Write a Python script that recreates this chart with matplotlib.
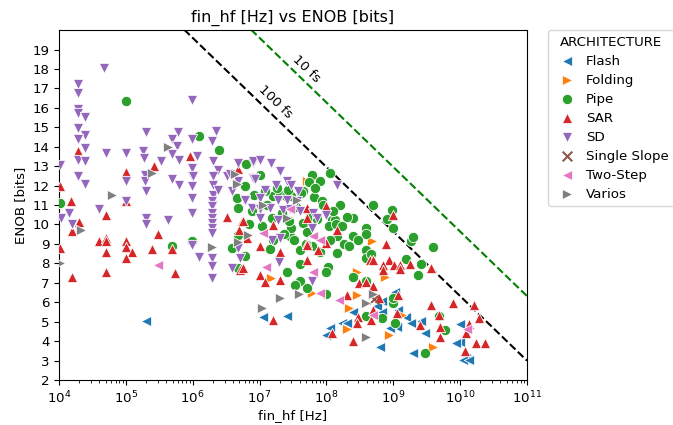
import numpy as np
import matplotlib
matplotlib.use("Agg")
import matplotlib.pyplot as plt

plt.rcParams["font.size"] = 9.6

# ---------------- data (fin_hf [Hz], ENOB [bits]) per architecture ----------------
flash_f = [1.98e5, 1.13e7, 2.53e7, 1.12e8, 9.8e7, 1.68e8, 2.0e8, 2.5e8, 5.61e8, 8.87e8, 1.12e9,
           1.05e9, 6.28e8, 6.67e8, 6.67e8, 1.18e9, 1.57e9, 1.87e9, 2.64e9, 2.96e9, 9.87e9, 9.87e9,
           8.3e9, 1.24e10, 1.98e9, 1.1e10, 1.36e10, 8.8e9]
flash_e = [5.01, 5.23, 5.30, 4.66, 4.32, 4.95, 4.92, 5.52, 5.78, 4.66, 4.75,
           6.55, 3.72, 6.04, 5.52, 5.61, 5.26, 4.92, 5.01, 4.41, 4.89, 3.97,
           3.89, 3.12, 3.41, 3.03, 3.03, 3.92]

folding_f = [5.05e7, 4.72e8, 7.6e8, 1.46e7, 5.98e7, 2.88e8, 2.88e8, 2.18e8, 2.0e8, 8.5e8, 1.33e9, 3.86e9]
folding_e = [12.22, 9.13, 7.30, 7.24, 6.47, 6.38, 7.58, 5.70, 4.61, 4.32, 5.35, 3.72]

pipe_f = [9.9e4, 1.24e6, 2.47e6, 6.2e6, 1.04e4, 4.53e6, 6.03e6, 8.3e6, 4.79e6, 4.79e6, 4.84e5,
          9.84e5, 3.81e6, 6.03e6, 4.79e6,
          1.01e7, 5.98e7, 7.96e7, 1.12e8, 1.6e7, 2.0e7, 2.5e7, 3.0e7, 7.6e6, 1.51e7, 5.65e7, 7.1e7,
          1.19e8, 1.35e8, 2.5e8, 1.42e8, 2.5e8, 3.97e8, 3.97e8, 4.99e8, 9.4e8, 9.73e8, 8.0e8,
          2.84e7, 3.3e7, 1.12e8, 1.6e7,
          1.87e9, 1.98e9, 3.94e9, 1.54e9, 2.64e9, 2.35e9, 9.94e8, 2.96e9, 4.9e9, 5.89e9,
          1.43e7, 4.0e7, 1.1e8, 1.4e8, 1.42e8, 3.97e8, 3.97e8, 4.6e8, 4.0e7, 1.06e8, 1.0e8, 2.53e7,
          4.0e7, 5.05e7, 3.4e7, 9.8e7, 2.5e8, 3.97e8, 9.94e8, 3.88e8, 6.67e8, 1.05e9,
          1.3e7, 2.2e7, 3.5e7, 4.5e7, 5.5e7, 6.5e7, 8.5e7, 3.0e7, 4.5e7, 2.0e8, 1.8e8, 2.2e8,
          6.0e7, 8.0e7, 5.0e7, 7.0e6, 3.0e8, 1.6e8,
          1.8e7, 2.7e7, 4.2e7, 6.8e7, 9.0e7, 1.25e8, 1.7e8, 2.8e7, 5.2e7, 1.1e7, 1.2e7, 2.3e7]
pipe_e = [16.35, 14.54, 13.82, 13.10, 11.11, 11.37, 11.96, 11.54, 10.85, 9.47, 8.87,
          9.13, 8.79, 8.39, 7.76,
          12.57, 12.57, 12.22, 12.65, 11.45, 11.50, 11.45, 11.45, 10.70, 10.34, 10.42, 10.30,
          10.25, 10.25, 10.34, 9.39, 9.39, 9.82, 9.50, 11.02, 10.76, 9.82, 10.30,
          9.39, 9.20, 9.22, 9.22,
          9.13, 9.36, 8.84, 8.22, 7.98, 7.41, 5.98, 3.41, 5.30, 4.58,
          8.74, 8.70, 9.90, 10.00, 8.53, 8.70, 8.30, 8.50, 7.95, 7.81, 7.58, 7.58,
          7.07, 6.73, 6.90, 6.43, 7.30, 7.10, 6.21, 5.30, 5.18, 4.95,
          11.00, 10.60, 10.90, 11.70, 12.20, 11.40, 11.20, 9.80, 10.10, 10.40, 9.00, 8.90,
          8.90, 8.60, 9.00, 10.00, 9.20, 11.00,
          11.90, 11.80, 11.60, 11.90, 11.00, 10.70, 9.90, 10.20, 9.60, 9.90, 11.70, 9.50]

sar_f = [1.94e4, 9.08e5, 9.9e4, 2.66e5, 4.69e6, 1.04e4, 1.5e4, 9.9e4, 4.99e4, 3.21e6, 5.49e6,
         4.9e6, 6.18e6, 1.99e4, 1.58e4, 1.04e4, 3.96e4, 4.99e4, 4.99e4, 4.99e4, 9.9e4, 9.9e4,
         1.25e5, 9.9e4, 2.99e5, 2.48e5, 4.94e5, 1.55e4, 4.99e4, 5.42e5, 5.07e6,
         5.05e7, 9.8e7, 5.05e7, 1.45e8, 1.6e7, 5.7e6, 6.4e6, 1.01e7, 5.05e7, 1.0e8,
         2.01e7, 5.05e7, 7.52e7, 5.05e7, 4.46e8, 5.0e8, 5.69e6, 1.01e7, 1.2e7, 2.01e7,
         3.08e8, 3.88e8, 4.99e8, 2.0e8, 6.13e8, 4.99e8, 2.98e8, 1.12e9, 2.82e8, 4.56e8, 1.19e8,
         2.5e8, 1.6e7,
         9.73e8, 7.72e8, 8.65e8, 7.03e8, 7.03e8, 1.02e9, 1.28e9, 1.28e9, 1.77e9, 3.72e9, 1.18e9,
         3.6e9, 7.84e9, 1.6e10, 2.49e9, 4.84e9, 4.95e9, 4.95e9, 1.92e10, 1.36e10, 1.21e10,
         1.75e10, 2.33e10, 1.17e10]
sar_e = [13.77, 13.51, 12.69, 13.03, 12.86, 11.96, 11.20, 11.19, 10.51, 10.39, 10.16,
         9.70, 9.30, 10.11, 9.64, 8.79, 9.13, 9.30, 9.13, 8.61, 9.13, 8.84,
         8.61, 8.27, 9.51, 8.74, 8.74, 7.30, 7.53, 7.50, 7.67,
         10.85, 10.95, 10.34, 9.73, 9.99, 10.20, 9.30, 8.87, 9.05, 9.05,
         8.61, 8.96, 8.70, 8.19, 8.19, 8.19, 7.76, 7.41, 7.02, 7.12,
         6.98, 7.02, 6.81, 6.38, 6.21, 5.61, 5.26, 5.44, 4.92, 5.09, 4.41,
         4.03, 5.06,
         10.51, 9.01, 8.19, 7.93, 7.67, 7.93, 7.93, 7.71, 7.98, 7.76, 6.38,
         5.87, 5.98, 5.87, 4.84, 5.35, 4.75, 4.23, 5.20, 4.89, 4.41,
         3.89, 3.89, 3.51]

sd_f = [4.76e4, 1.94e4, 1.94e4, 1.94e4, 1.94e4, 2.45e4, 1.94e4, 2.45e4, 1.94e4, 2.45e4, 1.94e4,
        2.45e4, 1.94e4, 2.45e4, 9.84e5,
        1.98e5, 5.94e5, 2.2e6, 4.84e5, 9.64e5, 1.95e6,
        4.99e4, 9.9e4, 1.82e5, 5.74e5, 4.94e5, 1.89e5, 3.35e5, 6.22e5, 1.14e6,
        9.9e4, 1.93e5, 1.93e5, 1.98e5, 4.84e5, 6.22e5, 9.84e5, 9.84e5, 1.0e6, 9.84e5, 9.84e5,
        2.02e6, 2.4e6, 2.02e6, 2.02e6, 2.02e6, 2.4e6, 2.02e6, 3.21e6, 3.6e6, 3.81e6, 4.79e6,
        4.79e6, 6.03e6, 8.02e6, 8.02e6,
        1.04e4, 3.96e4, 9.9e4, 1.98e5, 1.98e5, 4.31e5, 9.84e5, 1.95e6, 1.95e6, 1.95e6, 1.95e6,
        1.95e6, 1.95e6, 1.95e6, 1.58e4, 9.84e5, 1.24e6, 1.95e6, 1.95e6, 1.95e6, 4.79e6, 3.81e6,
        5.07e6, 1.06e4, 1.43e4,
        8.02e6, 1.03e7, 1.46e7, 2.01e7, 8.5e6, 1.2e7, 1.75e7, 2.53e7, 3.0e7, 3.78e7, 1.9e7,
        2.53e7, 3.57e7, 1.01e7, 6.03e6, 7.59e6, 1.01e7, 1.43e7, 2.25e7, 2.84e7, 4.0e7, 6.33e7,
        1.0e8, 7.11e7, 1.01e7, 1.9e7, 2.01e7, 1.51e7, 5.98e7, 1.45e8, 1.96e7, 5.98e7]
sd_e = [18.07, 17.21, 16.78, 15.92, 15.75, 15.54, 14.97, 14.58, 14.41, 13.94, 13.34,
        13.25, 12.48, 12.10, 16.40,
        14.75, 14.75, 14.80, 14.41, 14.41, 14.28,
        13.69, 13.69, 13.77, 14.06, 13.65, 13.43, 13.25, 13.30, 13.55,
        12.22, 12.57, 12.22, 11.71, 12.35, 12.05, 12.91, 12.48, 12.48, 11.96, 11.37,
        13.25, 12.82, 12.48, 12.05, 11.54, 11.79, 11.02, 12.48, 12.60, 11.71, 13.17,
        12.22, 11.19, 13.17, 12.40,
        13.08, 10.80, 11.19, 10.34, 10.04, 10.21, 10.59, 11.19, 10.93, 10.59, 10.34,
        10.08, 9.82, 9.56, 10.04, 8.96, 8.32, 8.27, 7.84, 7.24, 8.79, 7.76,
        8.27, 10.34, 10.59,
        13.25, 13.30, 13.17, 12.74, 12.35, 11.79, 12.05, 12.22, 12.05, 11.71, 11.28,
        11.28, 11.19, 11.37, 11.28, 10.85, 10.80, 10.85, 10.76, 10.80, 10.68, 10.59,
        10.51, 10.34, 10.34, 10.25, 9.30, 9.22, 9.82, 12.05, 8.05, 7.07]

single_f = [5.11e8]
single_e = [6.16]

twostep_f = [3.05e5, 1.24e7, 6.33e7, 7.96e7, 1.55e8, 4.99e8, 2.84e7, 6.33e7, 1.13e7, 1.27e10, 7.96e7]
twostep_e = [7.93, 7.81, 7.58, 6.47, 6.09, 5.35, 10.80, 9.39, 9.56, 4.61, 9.22]

varios_f = [4.31e5, 2.48e5, 6.13e4, 2.13e4, 1.04e4, 1.95e6, 4.79e6, 6.76e6, 4.28e6, 4.53e6,
            1.13e7, 2.53e7, 3.57e7, 1.07e7, 2.01e7, 3.91e7, 4.89e8, 3.97e8, 3.88e8]
varios_e = [14.00, 12.65, 11.54, 9.70, 8.00, 8.84, 9.08, 9.47, 12.62, 12.10,
            11.02, 10.34, 11.28, 5.70, 6.21, 6.43, 6.43, 5.95, 4.20]

architectures = ["Flash", "Folding", "Pipe", "SAR", "SD", "Single Slope", "Two-Step", "Varios"]
jitter_fs = [100, 10]

# ---------------- plot ----------------
series = {
    "Flash": (flash_f, flash_e, "<", "tab:blue"),
    "Folding": (folding_f, folding_e, ">", "tab:orange"),
    "Pipe": (pipe_f, pipe_e, "o", "tab:green"),
    "SAR": (sar_f, sar_e, "^", "tab:red"),
    "SD": (sd_f, sd_e, "v", "tab:purple"),
    "Single Slope": (single_f, single_e, "x", "tab:brown"),
    "Two-Step": (twostep_f, twostep_e, "<", "tab:pink"),
    "Varios": (varios_f, varios_e, ">", "tab:gray"),
}

fig = plt.figure(figsize=(6.73, 4.25), dpi=100)
ax = fig.add_axes([0.0877, 0.106, 0.6954, 0.823])

for name in architectures:
    f, e, m, c = series[name]
    if m == "x":
        ax.scatter(f, e, marker=m, s=48, color=c, linewidths=1.5, label=name, zorder=3)
    else:
        ax.scatter(f, e, marker=m, s=55, color=c, edgecolors="white", linewidths=0.6,
                   label=name, zorder=3)

fx = np.logspace(4, 11, 200)
line_styles = {100: "k", 10: "g"}
for sig in jitter_fs:
    enob = -np.log2(2 * np.pi * fx * sig * 1e-15) - 1
    ax.plot(fx, enob, "--", color=line_styles[sig], lw=1.5, zorder=2)

ax.text(10 ** 7.236, 16.3, "100 fs", rotation=-44, ha="center", va="center")
ax.text(10 ** 7.70, 17.98, "10 fs", rotation=-44, ha="center", va="center")

ax.set_xscale("log")
ax.set_xlim(1e4, 1e11)
ax.set_ylim(2, 20)
ax.set_yticks(range(2, 20))
ax.set_title("fin_hf [Hz] vs ENOB [bits]")
ax.set_xlabel("fin_hf [Hz]", labelpad=2)
ax.set_ylabel("ENOB [bits]")

ax.legend(title="ARCHITECTURE", loc="upper left", bbox_to_anchor=(1.045, 1.0),
          borderaxespad=0.0, handletextpad=0.45, labelspacing=0.45)

fig.savefig("out.png", dpi=100)
